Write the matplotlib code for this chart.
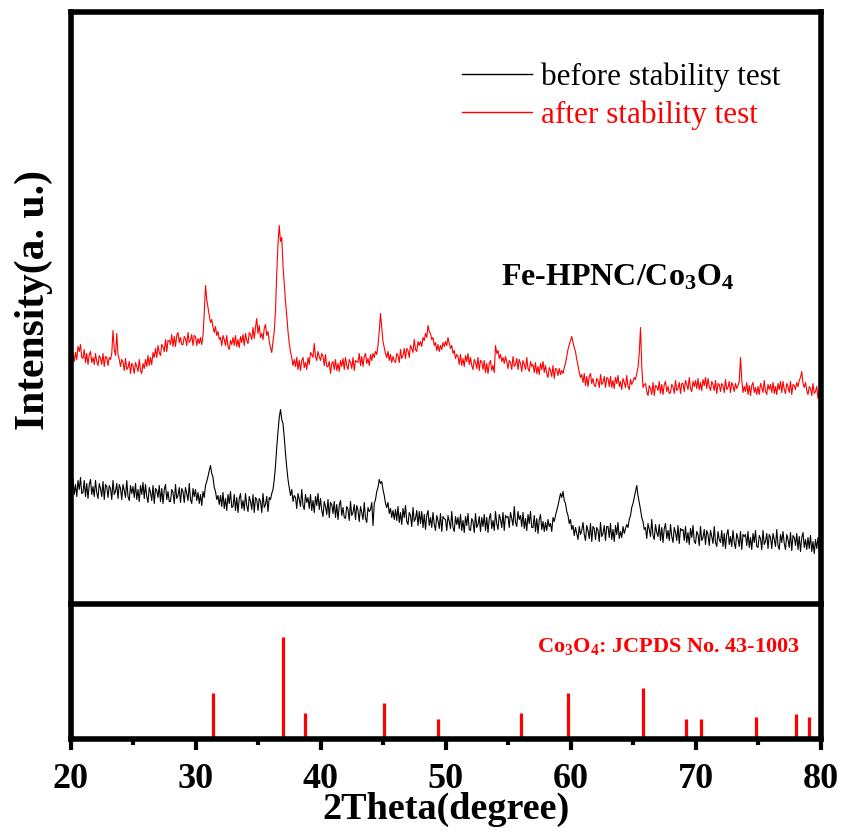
import numpy as np
import matplotlib
matplotlib.use('Agg')
import matplotlib.pyplot as plt
from matplotlib.ticker import MultipleLocator

plt.rcParams.update({
    'font.family': 'serif',
    'font.serif': ['Liberation Serif', 'DejaVu Serif'],
    'mathtext.fontset': 'custom',
    'mathtext.rm': 'Liberation Serif:bold',
    'mathtext.default': 'rm',
    'axes.linewidth': 4.0,
})

# --- data ---
two_theta = np.round(np.arange(20.0, 80.001, 0.1), 1)

# one row = one degree (x.0 ... x.9)
before_test = [
    122, 111, 125, 109, 119, 107, 123, 114, 126, 110,
    111, 123, 107, 120, 105, 119, 124, 109, 117, 107,
    123, 111, 105, 120, 115, 107, 122, 104, 119, 117,
    106, 118, 115, 104, 123, 109, 112, 120, 105, 119,
    115, 104, 119, 113, 106, 123, 107, 103, 118, 110,
    117, 106, 120, 104, 114, 102, 118, 109, 121, 105,
    119, 107, 101, 116, 111, 103, 118, 100, 115, 113,
    106, 118, 102, 115, 100, 114, 119, 104, 112, 102,
    102, 114, 111, 100, 119, 105, 108, 116, 101, 115,
    112, 101, 116, 110, 103, 120, 104, 100, 115, 107,
    114, 103, 111, 100, 109, 98, 112, 106, 118, 122,
    127, 133, 138, 130, 126, 116, 112, 104, 108, 99,
    108, 97, 111, 95, 105, 93, 109, 100, 112, 96,
    97, 109, 93, 106, 91, 105, 110, 95, 103, 93,
    110, 98, 92, 107, 102, 94, 109, 91, 106, 104,
    93, 105, 102, 91, 110, 96, 99, 107, 92, 106,
    104, 110, 114, 124, 138, 156, 172, 186, 194, 184,
    180, 166, 150, 136, 124, 116, 108, 114, 102, 108,
    106, 95, 110, 104, 97, 114, 98, 94, 109, 101,
    106, 95, 109, 93, 103, 91, 107, 98, 110, 94,
    105, 93, 87, 102, 97, 89, 104, 86, 101, 99,
    90, 102, 86, 99, 84, 98, 103, 88, 96, 86,
    85, 97, 94, 83, 102, 88, 91, 99, 84, 98,
    93, 82, 97, 91, 84, 101, 85, 81, 96, 92,
    94, 101, 78, 100, 104, 112, 116, 124, 120, 122,
    114, 108, 100, 96, 101, 90, 95, 86, 93, 84,
    94, 83, 97, 81, 91, 79, 95, 86, 98, 82,
    79, 91, 88, 77, 96, 82, 85, 93, 78, 92,
    80, 92, 76, 89, 74, 88, 93, 78, 86, 76,
    91, 79, 73, 88, 83, 75, 90, 72, 87, 85,
    84, 73, 88, 82, 75, 92, 76, 72, 87, 79,
    86, 75, 89, 73, 83, 71, 87, 78, 90, 74,
    73, 85, 82, 71, 90, 76, 79, 87, 72, 86,
    77, 89, 73, 86, 71, 85, 90, 75, 83, 73,
    92, 80, 74, 89, 84, 76, 91, 73, 88, 86,
    87, 76, 91, 85, 78, 97, 81, 77, 92, 84,
    88, 77, 91, 75, 85, 73, 89, 80, 92, 76,
    76, 88, 72, 85, 70, 84, 89, 74, 82, 72,
    81, 73, 84, 77, 80, 72, 86, 82, 88, 93,
    98, 104, 110, 106, 112, 103, 100, 92, 88, 80,
    84, 74, 78, 68, 76, 70, 64, 77, 69, 73,
    81, 69, 63, 78, 73, 65, 80, 62, 77, 75,
    64, 76, 73, 62, 81, 67, 70, 78, 63, 77,
    77, 66, 80, 64, 74, 62, 78, 69, 81, 65,
    72, 66, 77, 70, 75, 79, 76, 84, 88, 96,
    100, 106, 112, 118, 108, 101, 94, 86, 82, 74,
    76, 65, 80, 74, 67, 84, 68, 64, 79, 71,
    67, 79, 63, 76, 61, 75, 80, 65, 73, 63,
    79, 67, 61, 76, 71, 63, 78, 60, 75, 73,
    74, 63, 77, 61, 71, 59, 75, 66, 78, 62,
    60, 72, 69, 58, 77, 63, 66, 74, 59, 73,
    69, 58, 73, 67, 60, 77, 61, 57, 72, 64,
    61, 73, 57, 70, 55, 69, 74, 59, 67, 57,
    73, 61, 55, 70, 65, 57, 72, 54, 69, 67,
    69, 58, 72, 56, 66, 54, 70, 61, 73, 57,
    56, 68, 65, 54, 73, 59, 62, 70, 55, 69,
    66, 55, 70, 64, 57, 74, 58, 54, 69, 61,
    72, 60, 54, 69, 64, 56, 71, 53, 68, 66,
    58, 70, 54, 67, 52, 66, 71, 56, 64, 54,
    66, 55, 68, 52, 62, 50, 64, 55, 66, 51,
    56,
]

after_test = [
    244, 238, 251, 242, 251, 244, 257, 252, 259, 246,
    245, 254, 241, 250, 239, 249, 252, 241, 246, 239,
    250, 242, 238, 248, 245, 239, 250, 237, 247, 246,
    238, 246, 244, 250, 273, 254, 248, 270, 249, 244,
    237, 244, 241, 233, 245, 234, 236, 242, 230, 240,
    238, 230, 241, 237, 232, 244, 233, 230, 240, 235,
    244, 237, 248, 238, 246, 239, 251, 246, 255, 246,
    258, 251, 248, 259, 257, 252, 264, 252, 263, 263,
    259, 269, 257, 267, 257, 268, 271, 261, 266, 259,
    259, 267, 265, 258, 271, 261, 263, 269, 258, 268,
    267, 258, 265, 260, 266, 259, 268, 290, 318, 304,
    296, 288, 281, 284, 276, 271, 277, 268, 272, 264,
    266, 258, 268, 264, 258, 268, 257, 254, 263, 259,
    266, 258, 268, 257, 264, 256, 267, 261, 269, 258,
    270, 263, 260, 271, 269, 264, 276, 265, 276, 285,
    270, 278, 266, 270, 264, 275, 279, 268, 272, 262,
    256, 251, 262, 272, 293, 330, 360, 378, 362, 366,
    338, 320, 302, 288, 272, 260, 252, 246, 238, 244,
    237, 246, 234, 243, 233, 243, 246, 236, 241, 234,
    246, 239, 251, 249, 246, 260, 247, 243, 252, 247,
    243, 250, 247, 238, 249, 237, 237, 242, 230, 240,
    242, 234, 244, 233, 240, 232, 243, 237, 245, 234,
    246, 238, 234, 244, 241, 235, 246, 233, 243, 242,
    241, 250, 238, 247, 237, 247, 250, 240, 245, 238,
    249, 243, 250, 246, 252, 249, 258, 272, 290, 276,
    262, 256, 250, 246, 252, 243, 249, 241, 247, 243,
    241, 250, 248, 241, 254, 245, 248, 255, 245, 255,
    253, 246, 258, 255, 251, 264, 254, 252, 262, 258,
    262, 257, 266, 263, 270, 266, 278, 272, 270, 264,
    266, 258, 261, 253, 259, 252, 258, 254, 261, 257,
    262, 258, 266, 260, 255, 258, 250, 253, 245, 249,
    247, 239, 249, 238, 245, 237, 248, 242, 250, 239,
    246, 238, 234, 244, 241, 235, 246, 233, 243, 242,
    234, 243, 231, 240, 230, 240, 243, 233, 238, 231,
    258, 250, 253, 245, 249, 242, 246, 240, 247, 242,
    235, 243, 241, 234, 247, 237, 239, 245, 234, 244,
    240, 232, 243, 239, 234, 246, 235, 232, 242, 237,
    239, 231, 241, 230, 237, 229, 240, 234, 242, 231,
    238, 230, 226, 236, 233, 227, 238, 225, 235, 234,
    228, 235, 229, 233, 230, 236, 240, 247, 254, 259,
    263, 267, 261, 256, 252, 244, 238, 231, 226, 229,
    221, 230, 218, 227, 217, 227, 230, 220, 225, 218,
    217, 225, 223, 216, 229, 219, 221, 227, 216, 226,
    225, 217, 227, 216, 223, 215, 226, 220, 228, 217,
    222, 214, 225, 221, 216, 228, 217, 214, 224, 219,
    222, 226, 224, 230, 236, 250, 276, 238, 216, 219,
    220, 212, 208, 218, 215, 209, 221, 208, 218, 217,
    213, 222, 210, 219, 209, 219, 222, 212, 217, 210,
    211, 219, 217, 210, 223, 213, 215, 221, 210, 220,
    220, 212, 223, 219, 214, 226, 215, 212, 222, 217,
    223, 215, 225, 214, 221, 213, 224, 218, 226, 215,
    225, 217, 213, 222, 219, 213, 223, 210, 220, 219,
    212, 220, 218, 211, 224, 214, 216, 222, 211, 221,
    218, 212, 220, 215, 218, 222, 246, 224, 211, 217,
    212, 221, 209, 218, 208, 218, 221, 211, 216, 209,
    217, 209, 220, 216, 211, 223, 212, 209, 219, 214,
    219, 211, 221, 210, 217, 209, 220, 214, 222, 211,
    222, 214, 210, 220, 217, 211, 222, 209, 219, 218,
    214, 221, 217, 223, 226, 232, 220, 216, 221, 213,
    209, 217, 215, 208, 220, 210, 212, 217, 205, 214,
    210,
]

# Co3O4 reference pattern (JCPDS No. 43-1003)
ref_pos = [31.4, 37.0, 38.8, 45.1, 49.4, 56.0, 59.8, 65.8, 69.2, 70.4, 74.8, 78.0, 79.1]
ref_int = [45, 100, 26, 35, 20, 26, 45, 50, 20, 20, 22, 25, 22]

W, H = 844, 834
fig = plt.figure(figsize=(W / 100, H / 100), dpi=100)

left, right = 70.5 / W, 820.5 / W
y_mid = 1 - 603.5 / H
y_top = 1 - 12 / H
y_bot = 1 - 739 / H

ax = fig.add_axes([left, y_mid, right - left, y_top - y_mid])
ax2 = fig.add_axes([left, y_bot, right - left, y_mid - y_bot])

# upper panel: measured patterns
ax.plot(two_theta, before_test, color='black', lw=0.8, label='before stability test')
ax.plot(two_theta, after_test, color='#ff0000', lw=0.8, label='after stability test')
ax.set_xlim(20, 80)
ax.set_ylim(0, 591.5)
ax.set_xticks([])
ax.set_yticks([])
ax.spines['bottom'].set_visible(False)

leg = ax.legend(loc='upper left', bbox_to_anchor=(0.522, 0.915), frameon=False,
                fontsize=22.5, handlelength=2.25, handletextpad=0.28, borderpad=0,
                borderaxespad=0, labelspacing=0.28, labelcolor='linecolor')
for h in leg.get_lines():
    h.set_linewidth(1.0)

ax.text(0.73, 0.55, r'Fe-HPNC/Co$_3$O$_4$', transform=ax.transAxes,
        fontsize=23, fontweight='bold', ha='center', va='center')

# lower panel: standard card
ax2.vlines(ref_pos, 0, ref_int, color='#ff0000', lw=2.3)
ax2.set_xlim(20, 80)
ax2.set_ylim(0, 133)
ax2.set_yticks([])
ax2.xaxis.set_major_locator(MultipleLocator(10))
ax2.xaxis.set_minor_locator(MultipleLocator(5))
ax2.tick_params(axis='x', which='major', direction='out', length=8, width=3,
                labelsize=26, pad=9)
ax2.tick_params(axis='x', which='minor', direction='out', length=4, width=3)
for lab in ax2.get_xticklabels():
    lab.set_fontweight('bold')

ax2.text(0.972, 0.68, r'Co$_3$O$_4$: JCPDS No. 43-1003', transform=ax2.transAxes,
         fontsize=16, fontweight='bold', color='#ff0000', ha='right', va='center')

ax2.set_xlabel('2Theta(degree)', fontsize=27.5, fontweight='bold', labelpad=-3)
fig.text(34 / W, 1 - 300 / H, 'Intensity(a. u.)', rotation=90, fontsize=30,
         fontweight='bold', ha='center', va='center')

fig.savefig('out.png', dpi=100)
